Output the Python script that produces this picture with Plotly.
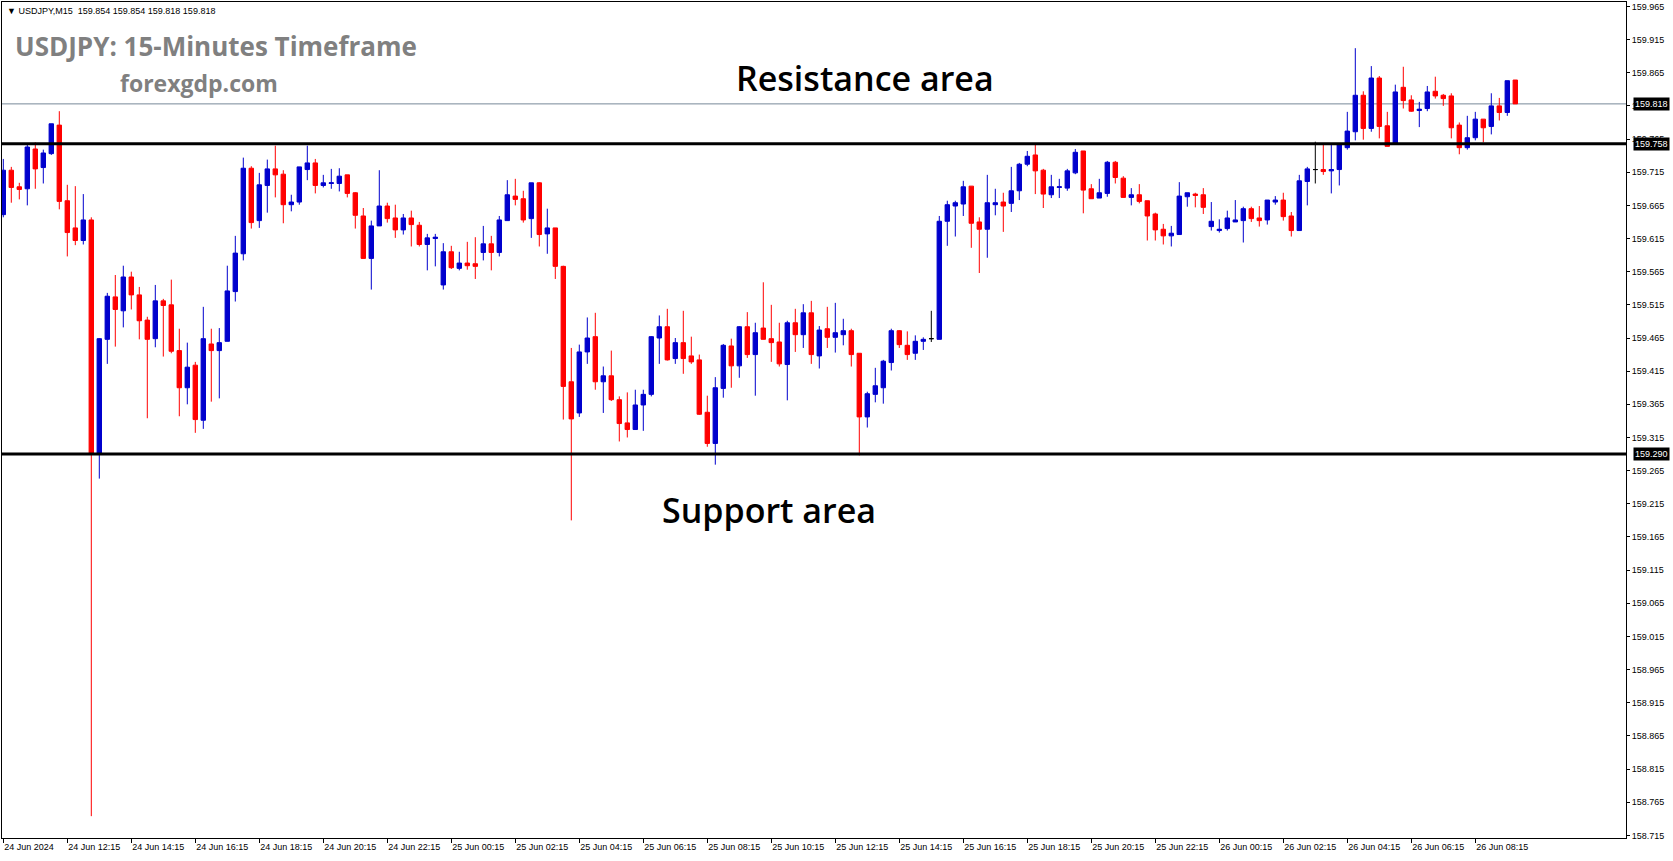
import pandas as pd
import plotly.graph_objects as go

# ---------------- data ----------------
header_text = "USDJPY,M15\u00a0\u00a0159.854 159.854 159.818 159.818"
chart_title = "USDJPY: 15-Minutes Timeframe"
site_name = "forexgdp.com"
resistance_label = "Resistance area"
support_label = "Support area"

opens = [
    159.651, 159.718, 159.693, 159.690, 159.750, 159.722, 159.743, 159.786, 159.672, 159.631,
    159.612, 159.643, 159.290, 159.463, 159.527, 159.506, 159.557, 159.530, 159.492, 159.464,
    159.521, 159.515, 159.446, 159.390, 159.424, 159.341, 159.456, 159.446, 159.460, 159.535,
    159.592, 159.721, 159.642, 159.695, 159.720, 159.712, 159.666, 159.670, 159.719, 159.729,
    159.695, 159.698, 159.698, 159.711, 159.684, 159.649, 159.585, 159.634, 159.664, 159.646,
    159.628, 159.646, 159.635, 159.606, 159.615, 159.545, 159.595, 159.570, 159.578, 159.577,
    159.594, 159.607, 159.594, 159.642, 159.679, 159.675, 159.645, 159.699, 159.622, 159.631,
    159.573, 159.399, 159.352, 159.444, 159.467, 159.399, 159.408, 159.372, 159.337, 159.327,
    159.364, 159.380, 159.465, 159.482, 159.434, 159.458, 159.438, 159.432, 159.353, 159.306,
    159.389, 159.453, 159.423, 159.482, 159.440, 159.480, 159.464, 159.459, 159.425, 159.488,
    159.470, 159.503, 159.438, 159.479, 159.466, 159.470, 159.476, 159.442, 159.346, 159.380,
    159.390, 159.428, 159.476, 159.454, 159.442, 159.460, 159.464, 159.463, 159.641, 159.664,
    159.667, 159.694, 159.640, 159.629, 159.666, 159.670, 159.668, 159.687, 159.727, 159.741,
    159.718, 159.681, 159.692, 159.691, 159.714, 159.747, 159.690, 159.676, 159.683, 159.730,
    159.706, 159.677, 159.681, 159.672, 159.652, 159.629, 159.619, 159.621, 159.678, 159.682,
    159.681, 159.633, 159.627, 159.630, 159.640, 159.642, 159.660, 159.646, 159.643, 159.670,
    159.673, 159.649, 159.627, 159.701, 159.719, 159.719, 159.717, 159.719, 159.752, 159.776,
    159.831, 159.781, 159.857, 159.785, 159.758, 159.843, 159.824, 159.808, 159.811, 159.837,
    159.831, 159.830, 159.786, 159.752, 159.767, 159.795, 159.784, 159.815, 159.805, 159.854,
]
highs = [
    159.735, 159.723, 159.699, 159.756, 159.760, 159.749, 159.788, 159.807, 159.696, 159.694,
    159.682, 159.647, 159.465, 159.533, 159.560, 159.574, 159.565, 159.542, 159.497, 159.545,
    159.524, 159.553, 159.479, 159.458, 159.429, 159.512, 159.479, 159.480, 159.574, 159.619,
    159.737, 159.724, 159.714, 159.734, 159.755, 159.718, 159.681, 159.723, 159.755, 159.735,
    159.711, 159.720, 159.721, 159.711, 159.685, 159.661, 159.642, 159.718, 159.669, 159.666,
    159.652, 159.657, 159.640, 159.622, 159.622, 159.608, 159.604, 159.595, 159.610, 159.617,
    159.634, 159.619, 159.649, 159.703, 159.705, 159.687, 159.699, 159.700, 159.660, 159.631,
    159.574, 159.450, 159.455, 159.496, 159.503, 159.422, 159.446, 159.377, 159.383, 159.387,
    159.387, 159.468, 159.499, 159.509, 159.465, 159.506, 159.467, 159.440, 159.378, 159.406,
    159.456, 159.464, 159.483, 159.504, 159.488, 159.549, 159.515, 159.488, 159.491, 159.509,
    159.516, 159.521, 159.483, 159.512, 159.518, 159.494, 159.479, 159.442, 159.384, 159.420,
    159.432, 159.479, 159.477, 159.475, 159.469, 159.466, 159.506, 159.649, 159.672, 159.672,
    159.702, 159.694, 159.647, 159.711, 159.690, 159.684, 159.723, 159.729, 159.747, 159.756,
    159.720, 159.711, 159.705, 159.720, 159.750, 159.747, 159.697, 159.705, 159.732, 159.732,
    159.709, 159.691, 159.697, 159.672, 159.654, 159.637, 159.634, 159.700, 159.684, 159.684,
    159.691, 159.670, 159.644, 159.657, 159.673, 159.663, 159.663, 159.664, 159.673, 159.679,
    159.684, 159.655, 159.711, 159.723, 159.761, 159.756, 159.756, 159.756, 159.806, 159.902,
    159.837, 159.875, 159.860, 159.806, 159.847, 159.874, 159.831, 159.821, 159.845, 159.859,
    159.833, 159.834, 159.790, 159.800, 159.806, 159.795, 159.834, 159.827, 159.853, 159.854,
]
lows = [
    159.647, 159.669, 159.674, 159.665, 159.690, 159.698, 159.741, 159.659, 159.588, 159.605,
    159.606, 158.744, 159.253, 159.426, 159.452, 159.481, 159.508, 159.463, 159.344, 159.451,
    159.437, 159.442, 159.347, 159.365, 159.322, 159.328, 159.369, 159.374, 159.460, 159.520,
    159.582, 159.630, 159.631, 159.654, 159.677, 159.638, 159.656, 159.666, 159.703, 159.683,
    159.692, 159.690, 159.686, 159.677, 159.630, 159.585, 159.538, 159.634, 159.639, 159.616,
    159.621, 159.603, 159.603, 159.567, 159.573, 159.538, 159.569, 159.567, 159.568, 159.554,
    159.582, 159.567, 159.588, 159.642, 159.665, 159.639, 159.616, 159.603, 159.592, 159.554,
    159.342, 159.190, 159.346, 159.426, 159.387, 159.352, 159.370, 159.309, 159.315, 159.327,
    159.325, 159.377, 159.426, 159.431, 159.426, 159.411, 159.426, 159.349, 159.301, 159.274,
    159.375, 159.390, 159.405, 159.435, 159.378, 159.463, 159.429, 159.422, 159.371, 159.444,
    159.450, 159.426, 159.419, 159.450, 159.443, 159.454, 159.422, 159.288, 159.330, 159.368,
    159.366, 159.416, 159.450, 159.432, 159.432, 159.447, 159.459, 159.463, 159.604, 159.618,
    159.649, 159.601, 159.563, 159.586, 159.650, 159.625, 159.655, 159.673, 159.724, 159.682,
    159.661, 159.676, 159.676, 159.687, 159.712, 159.653, 159.675, 159.676, 159.678, 159.698,
    159.677, 159.665, 159.668, 159.612, 159.612, 159.606, 159.603, 159.621, 159.663, 159.662,
    159.652, 159.627, 159.624, 159.627, 159.640, 159.609, 159.640, 159.633, 159.636, 159.666,
    159.642, 159.618, 159.627, 159.665, 159.698, 159.711, 159.683, 159.695, 159.749, 159.763,
    159.764, 159.776, 159.766, 159.754, 159.758, 159.811, 159.806, 159.783, 159.807, 159.826,
    159.815, 159.766, 159.742, 159.749, 159.763, 159.760, 159.772, 159.793, 159.800, 159.818,
]
closes = [
    159.718, 159.692, 159.689, 159.753, 159.720, 159.744, 159.788, 159.671, 159.624, 159.612,
    159.643, 159.290, 159.464, 159.528, 159.508, 159.557, 159.530, 159.491, 159.463, 159.521,
    159.514, 159.445, 159.390, 159.421, 159.342, 159.464, 159.446, 159.458, 159.536, 159.593,
    159.721, 159.639, 159.696, 159.720, 159.711, 159.666, 159.670, 159.723, 159.729, 159.695,
    159.699, 159.699, 159.709, 159.683, 159.650, 159.585, 159.634, 159.664, 159.645, 159.628,
    159.646, 159.636, 159.606, 159.616, 159.617, 159.595, 159.571, 159.578, 159.574, 159.573,
    159.607, 159.594, 159.643, 159.681, 159.674, 159.643, 159.699, 159.621, 159.631, 159.573,
    159.392, 159.343, 159.444, 159.465, 159.399, 159.408, 159.372, 159.336, 159.327, 159.364,
    159.380, 159.467, 159.482, 159.432, 159.458, 159.434, 159.429, 159.350, 159.306, 159.390,
    159.454, 159.423, 159.482, 159.440, 159.473, 159.463, 159.458, 159.426, 159.488, 159.470,
    159.503, 159.440, 159.477, 159.466, 159.473, 159.476, 159.440, 159.346, 159.381, 159.393,
    159.430, 159.476, 159.455, 159.440, 159.460, 159.463, 159.464, 159.641, 159.666, 159.669,
    159.693, 159.638, 159.629, 159.669, 159.669, 159.664, 159.687, 159.727, 159.739, 159.717,
    159.682, 159.693, 159.693, 159.717, 159.745, 159.688, 159.675, 159.684, 159.730, 159.707,
    159.677, 159.681, 159.671, 159.649, 159.628, 159.619, 159.623, 159.679, 159.684, 159.680,
    159.662, 159.641, 159.629, 159.646, 159.643, 159.660, 159.645, 159.642, 159.673, 159.673,
    159.648, 159.627, 159.702, 159.720, 159.719, 159.716, 159.719, 159.756, 159.777, 159.831,
    159.781, 159.857, 159.784, 159.754, 159.836, 159.823, 159.807, 159.810, 159.836, 159.830,
    159.826, 159.782, 159.752, 159.767, 159.795, 159.782, 159.815, 159.805, 159.853, 159.818,
]

first_bar_time = "2024-06-24 10:15"
bar_minutes = 15

tick_labels = [
    "24 Jun 2024", "24 Jun 12:15", "24 Jun 14:15", "24 Jun 16:15", "24 Jun 18:15",
    "24 Jun 20:15", "24 Jun 22:15", "25 Jun 00:15", "25 Jun 02:15", "25 Jun 04:15",
    "25 Jun 06:15", "25 Jun 08:15", "25 Jun 10:15", "25 Jun 12:15", "25 Jun 14:15",
    "25 Jun 16:15", "25 Jun 18:15", "25 Jun 20:15", "25 Jun 22:15", "26 Jun 00:15",
    "26 Jun 02:15", "26 Jun 04:15", "26 Jun 06:15", "26 Jun 08:15",
]
tick_every_bars = 8

price_ticks = [
    159.965, 159.915, 159.865, 159.815, 159.765, 159.715, 159.665, 159.615, 159.565,
    159.515, 159.465, 159.415, 159.365, 159.315, 159.265, 159.215, 159.165, 159.115,
    159.065, 159.015, 158.965, 158.915, 158.865, 158.815, 158.765, 158.715,
]

resistance_level = 159.758
support_level = 159.290
last_price = 159.818

# ---------------- figure ----------------
W, H = 1673, 861
PL, PR, PT, PB = 2, 1626, 2, 838          # plot area in pixels
BAR_PX = 8.0                               # horizontal pixels per bar
FIRST_BAR_PX = 3.3                         # centre of the first bar

BLUE = "#0000CD"
RED = "#FF0000"

n = len(opens)
times = pd.date_range(first_bar_time, periods=n, freq=f"{bar_minutes}min")
t0 = times[0]
x_left = t0 + pd.Timedelta(minutes=bar_minutes * (PL - FIRST_BAR_PX) / BAR_PX)
x_right = t0 + pd.Timedelta(minutes=bar_minutes * (PR - FIRST_BAR_PX) / BAR_PX)

# price scale: 159.965 at y=6.4 px, 663.2 px per 1.000
PX_PER_UNIT = 663.2
y_top = 159.965 + (6.4 - PT) / PX_PER_UNIT
y_bot = 159.965 - (PB - 6.4) / PX_PER_UNIT

groups = {
    "up": ([i for i in range(n) if closes[i] > opens[i]], BLUE),
    "down": ([i for i in range(n) if closes[i] < opens[i]], RED),
    "doji": ([i for i in range(n) if closes[i] == opens[i]], "#000000"),
}

fig = go.Figure()
for name, (idx, col) in groups.items():
    if not idx:
        continue
    style = dict(line=dict(color=col, width=1), fillcolor=col)
    fig.add_trace(go.Candlestick(
        x=[times[i] for i in idx],
        open=[opens[i] for i in idx],
        high=[highs[i] for i in idx],
        low=[lows[i] for i in idx],
        close=[closes[i] for i in idx],
        increasing=style, decreasing=style,
        whiskerwidth=0, name=name, showlegend=False, hoverinfo="skip",
    ))

# horizontal levels
fig.add_shape(type="line", xref="paper", x0=0, x1=1, yref="y",
              y0=last_price, y1=last_price, line=dict(color="#778899", width=1),
              layer="below")
for lvl in (resistance_level, support_level):
    fig.add_shape(type="line", xref="paper", x0=0, x1=1, yref="y",
                  y0=lvl, y1=lvl, line=dict(color="#000000", width=3), layer="above")

AX_FONT = dict(family="Tahoma, Liberation Sans, Arial, sans-serif", size=9, color="#000000")


def px_x(px):
    return (px - PL) / (PR - PL)


def px_y(py):
    return 1 - (py - PT) / (PB - PT)


# price boxes on the right axis
for lvl in (last_price, resistance_level, support_level):
    fig.add_annotation(xref="paper", x=1, xanchor="left", xshift=7,
                       yref="y", y=lvl, yanchor="middle",
                       text=f"{lvl:.3f}", showarrow=False,
                       bgcolor="#000000", borderpad=1,
                       font=dict(family=AX_FONT["family"], size=9, color="#FFFFFF"))

# header line
fig.add_annotation(xref="paper", x=px_x(5), xanchor="left",
                   yref="paper", y=px_y(11), yanchor="middle",
                   text="\u25BC\u00a0" + header_text, showarrow=False,
                   font=dict(family=AX_FONT["family"], size=9, color="#000000"))

fig.add_annotation(xref="paper", x=px_x(13), xanchor="left",
                   yref="paper", y=px_y(46), yanchor="middle",
                   text=chart_title, showarrow=False,
                   font=dict(family="Open Sans", size=26, color="#808080", weight="bold"))
fig.add_annotation(xref="paper", x=px_x(199), xanchor="center",
                   yref="paper", y=px_y(83), yanchor="middle",
                   text=site_name, showarrow=False,
                   font=dict(family="Open Sans", size=23, color="#808080", weight="bold"))
fig.add_annotation(xref="paper", x=px_x(865), xanchor="center",
                   yref="paper", y=px_y(78), yanchor="middle",
                   text=resistance_label, showarrow=False,
                   font=dict(family="Open Sans", size=34, color="#000000", weight=600))
fig.add_annotation(xref="paper", x=px_x(769), xanchor="center",
                   yref="paper", y=px_y(510), yanchor="middle",
                   text=support_label, showarrow=False,
                   font=dict(family="Open Sans", size=34, color="#000000", weight=600))

fig.update_layout(
    width=W, height=H,
    margin=dict(l=PL, r=W - PR, t=PT, b=H - PB, pad=0),
    paper_bgcolor="#FFFFFF", plot_bgcolor="#FFFFFF",
    boxgap=0.45, boxgroupgap=0, boxmode="overlay",
    showlegend=False,
    xaxis=dict(
        range=[x_left, x_right], rangeslider=dict(visible=False),
        showgrid=False, zeroline=False,
        showline=True, linecolor="#000000", linewidth=1, mirror=True,
        ticks="outside", ticklen=4, tickcolor="#000000", tickwidth=1,
        tickmode="array",
        tickvals=[times[i * tick_every_bars] for i in range(len(tick_labels))],
        ticktext=tick_labels,
        ticklabelposition="outside right",
        tickfont=AX_FONT,
    ),
    yaxis=dict(
        range=[y_bot, y_top], side="right",
        showgrid=False, zeroline=False,
        showline=True, linecolor="#000000", linewidth=1, mirror=True,
        ticks="outside", ticklen=3, tickcolor="#000000", tickwidth=1,
        tickmode="array", tickvals=price_ticks,
        ticktext=[f"{v:.3f}" for v in price_ticks],
        tickfont=AX_FONT,
    ),
)

fig.write_html("out.html", config={"displayModeBar": False},
               post_script="document.body.style.margin='0';document.body.style.overflow='hidden';")
